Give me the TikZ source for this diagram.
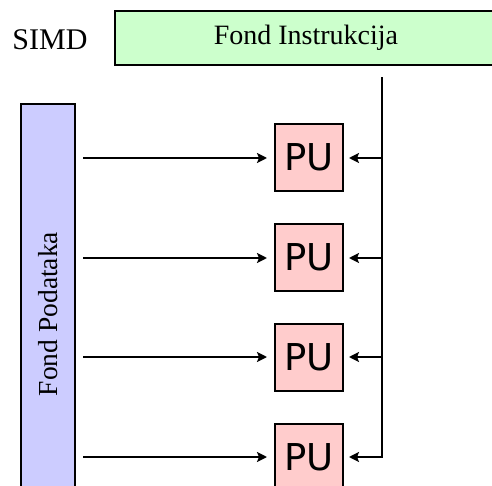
\documentclass[tikz,border=0pt]{standalone}
\usepackage{fontspec}
\setmainfont{Liberation Serif}
\newfontfamily\pufont{DejaVu Sans}
\usetikzlibrary{arrows.meta}
\definecolor{instrgreen}{HTML}{CCFFCC}
\definecolor{datablue}{HTML}{CCCCFF}
\definecolor{pupink}{HTML}{FFCCCC}
\begin{document}
\begin{tikzpicture}[x=1pt,y=-1pt,
  box/.style={draw=black,line width=2pt,inner sep=0pt},
  pubox/.style={box,fill=pupink,minimum width=68pt,minimum height=67pt,font=\pufont\fontsize{37}{37}\selectfont},
  conn/.style={line width=2.4pt},
  arr/.style={conn,-{Stealth[length=10pt,width=10pt,inset=2pt]}}]
\useasboundingbox (0,0) rectangle (492,486);
\clip (0,0) rectangle (492,486);
\node[font=\fontsize{30}{30}\selectfont] (simd) at (50,40) {SIMD};
\node[box,fill=instrgreen,minimum width=382pt,minimum height=54pt,font=\fontsize{28}{28}\selectfont] (instr) at (306,38) {Fond Instrukcija};
\node[box,fill=datablue,minimum width=54pt,minimum height=420pt] (data) at (48,314) {};
\node[rotate=90,font=\fontsize{27.5}{27.5}\selectfont] (datalabel) at (48,314) {Fond Podataka};
\node[pubox] (pu1) at (309,157.5) {PU};
\node[pubox] (pu2) at (309,257.5) {PU};
\node[pubox] (pu3) at (309,357.5) {PU};
\node[pubox] (pu4) at (309,457.5) {PU};
\coordinate (bustop) at (382,78);
\foreach \i/\y in {1/158,2/258,3/357,4/457} {
  \coordinate (b\i) at (382,\y);
  \draw[arr,shorten <=7pt,shorten >=7pt] (data.east |- b\i) -- (pu\i.west |- b\i);
  \draw[arr,shorten >=5pt] (b\i) -- (pu\i.east |- b\i);
}
\draw[conn,line cap=rect] (bustop) -- (b4);
\end{tikzpicture}
\end{document}
